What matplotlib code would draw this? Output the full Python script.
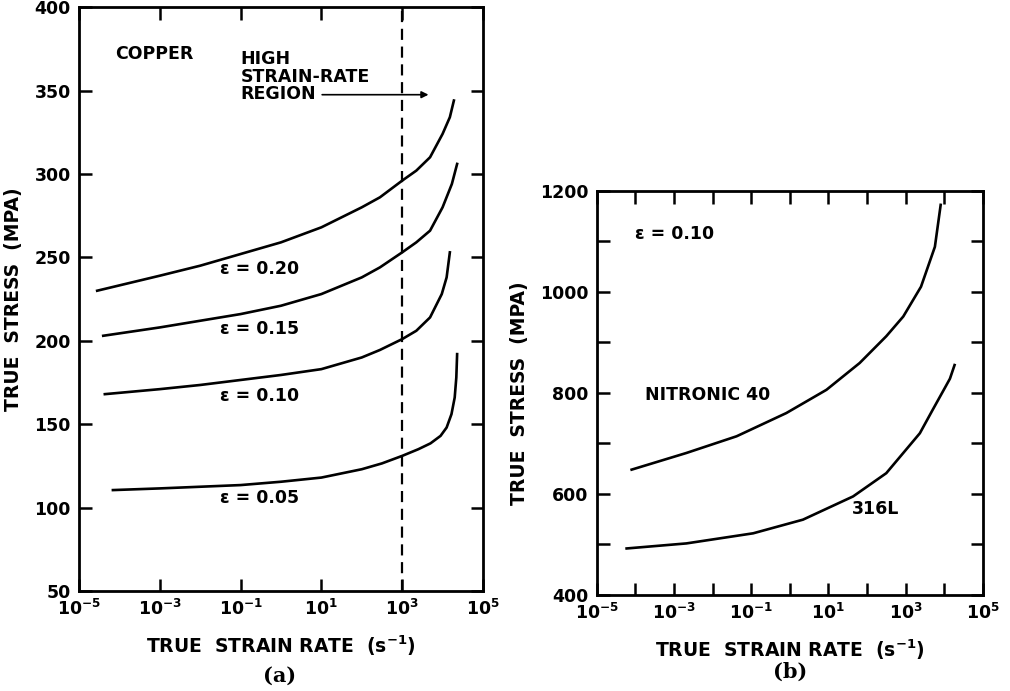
import numpy as np
import matplotlib
matplotlib.use("Agg")
import matplotlib.pyplot as plt
from matplotlib.ticker import FixedLocator, NullLocator, NullFormatter

plt.rcParams['font.family'] = ['DejaVu Sans']
plt.rcParams['font.weight'] = 'bold'
plt.rcParams['axes.labelweight'] = 'bold'
plt.rcParams['mathtext.default'] = 'regular'

# panel (a): copper, log10 strain rate vs true stress (MPa)
eps20_logx = [-4.55, -3, -2, -1, 0, 1, 2, 2.45, 3, 3.35, 3.69, 4.0, 4.18, 4.28]
eps20_y = [230, 239, 245, 252, 259, 268, 280, 286, 296, 302, 310, 324, 334, 344]
eps15_logx = [-4.4, -3, -2, -1, 0, 1, 2, 2.45, 3, 3.35, 3.69, 4.0, 4.23, 4.36]
eps15_y = [203, 208, 212, 216, 221, 228, 238, 244, 253, 259, 266, 280, 294, 306]
eps10_logx = [-4.36, -3, -2, -1, 0, 1, 2, 2.45, 3, 3.35, 3.69, 3.98, 4.1, 4.18]
eps10_y = [168, 171, 173.5, 176.5, 179.5, 183, 190, 194.5, 201, 206, 214, 228, 238, 253]
eps05_logx = [-4.16, -3, -2, -1, 0, 1, 2, 2.5, 3, 3.4, 3.7, 3.95, 4.1, 4.22, 4.3, 4.34, 4.36]
eps05_y = [110.5, 111.5, 112.5, 113.5, 115.5, 118, 123, 126.5, 131, 135, 138.5, 143, 148, 156, 166, 178, 192]
copper_labels = ["\u03b5 = 0.20", "\u03b5 = 0.15", "\u03b5 = 0.10", "\u03b5 = 0.05"]
copper_label_y = [243, 207, 167, 106]
high_rate_limit = 1e3

# panel (b): steels at strain 0.10
nitronic_logx = [-4.10, -2.68, -1.38, -0.09, 0.95, 1.81, 2.5, 2.94, 3.4, 3.76, 3.91]
nitronic_y = [648, 681, 714, 760, 806, 859, 912, 951, 1010, 1089, 1172]
s316_logx = [-4.23, -2.68, -0.95, 0.34, 1.64, 2.5, 3.37, 3.7, 4.02, 4.15, 4.27]
s316_y = [492, 502, 522, 549, 595, 641, 720, 766, 810, 828, 855]

fig = plt.figure(figsize=(10.10, 6.91), dpi=100)
ax1 = fig.add_axes([0.0782, 0.1447, 0.400, 0.845])
ax2 = fig.add_axes([0.591, 0.139, 0.382, 0.585])


def style_axis(ax):
    for s in ax.spines.values():
        s.set_linewidth(2)
    ax.tick_params(which='both', direction='in', top=True, right=True,
                   width=1.8, length=9, labelsize=12.5, pad=6)
    ax.set_xlabel("TRUE  STRAIN RATE  (s$^{-1}$)", fontsize=13.5, labelpad=10)
    ax.set_ylabel("TRUE  STRESS  (MPA)", fontsize=13.5, labelpad=8)


odd_exp = [-5, -3, -1, 1, 3, 5]
odd_labels = ["$10^{%d}$" % e for e in odd_exp]

# --- panel (a)
for lx, y in [(eps20_logx, eps20_y), (eps15_logx, eps15_y),
              (eps10_logx, eps10_y), (eps05_logx, eps05_y)]:
    ax1.plot(10.0 ** np.array(lx), y, color='black', lw=1.9,
             solid_joinstyle='round')
ax1.axvline(high_rate_limit, color='black', lw=1.6, ls=(0, (5, 3)))
ax1.set_xscale('log')
ax1.set_xlim(1e-5, 1e5)
ax1.set_ylim(50, 400)
ax1.xaxis.set_major_locator(FixedLocator([10.0 ** e for e in odd_exp]))
ax1.xaxis.set_minor_locator(NullLocator())
ax1.xaxis.set_minor_formatter(NullFormatter())
ax1.set_xticklabels(odd_labels)
ax1.set_yticks(np.arange(50, 401, 50))
style_axis(ax1)
for txt, yy in zip(copper_labels, copper_label_y):
    ax1.text(10 ** -0.52, yy, txt, ha='center', va='center', fontsize=12.5)
ax1.text(10 ** -4.1, 372, "COPPER", ha='left', va='center', fontsize=12.5)
ax1.text(10 ** -1.0, 374, "HIGH\nSTRAIN-RATE\nREGION", ha='left', va='top',
         fontsize=12.5, linespacing=0.95)
ax1.annotate("", xy=(10 ** 3.72, 347.5), xytext=(10 ** 0.95, 347.5),
             arrowprops=dict(arrowstyle='-|>', color='black', lw=1.2,
                             mutation_scale=10))
fig.text(0.277, 0.022, "(a)", ha='center', va='center', fontsize=15,
         family='DejaVu Serif')

# --- panel (b)
ax2.plot(10.0 ** np.array(nitronic_logx), nitronic_y, color='black', lw=1.9,
         solid_joinstyle='round')
ax2.plot(10.0 ** np.array(s316_logx), s316_y, color='black', lw=1.9,
         solid_joinstyle='round')
ax2.set_xscale('log')
ax2.set_xlim(1e-5, 1e5)
ax2.set_ylim(400, 1200)
ax2.xaxis.set_major_locator(FixedLocator([10.0 ** e for e in odd_exp]))
ax2.xaxis.set_minor_locator(FixedLocator([10.0 ** e for e in range(-4, 5, 2)]))
ax2.xaxis.set_minor_formatter(NullFormatter())
ax2.set_xticklabels(odd_labels)
ax2.set_yticks(np.arange(400, 1201, 200))
ax2.yaxis.set_minor_locator(FixedLocator(np.arange(500, 1200, 200)))
ax2.yaxis.set_minor_formatter(NullFormatter())
style_axis(ax2)
ax2.text(10 ** -4.0, 1115, "\u03b5 = 0.10", ha='left', va='center', fontsize=12.5)
ax2.text(10 ** -3.75, 795, "NITRONIC 40", ha='left', va='center', fontsize=12.5)
ax2.text(10 ** 1.6, 570, "316L", ha='left', va='center', fontsize=12.5)
fig.text(0.782, 0.028, "(b)", ha='center', va='center', fontsize=15,
         family='DejaVu Serif')

fig.savefig("out.png", dpi=100)
